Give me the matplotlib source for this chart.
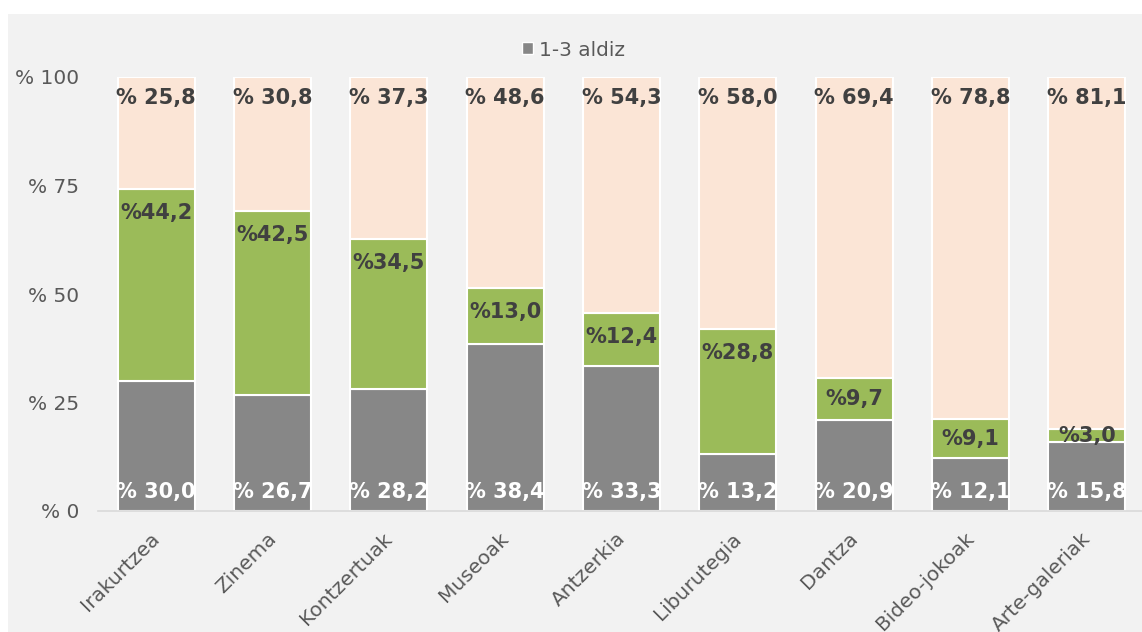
import numpy as np
import matplotlib.pyplot as plt
import matplotlib.transforms as mtransforms
from matplotlib.patches import Patch, Rectangle

categories = ['Irakurtzea', 'Zinema', 'Kontzertuak', 'Museoak', 'Antzerkia',
              'Liburutegia', 'Dantza', 'Bideo-jokoak', 'Arte-galeriak']
aldiz_1_3 = [30.0, 26.7, 28.2, 38.4, 33.3, 13.2, 20.9, 12.1, 15.8]
aldiz_4_gehiago = [44.2, 42.5, 34.5, 13.0, 12.4, 28.8, 9.7, 9.1, 3.0]
inoiz_ez = [25.8, 30.8, 37.3, 48.6, 54.3, 58.0, 69.4, 78.8, 81.1]
legend_label = '1-3 aldiz'

c_gray = '#878787'
c_green = '#9bbb59'
c_peach = '#fbe5d6'
c_text = '#404040'
c_tick = '#595959'

plt.rcParams['font.family'] = ['DejaVu Sans']

fig = plt.figure(figsize=(11.42, 6.32), dpi=100, facecolor='white')
# gray chart area
fig.patches.append(Rectangle((8 / 1142, 0), 1, 1 - 14 / 632, transform=fig.transFigure,
                             facecolor='#f2f2f2', edgecolor='none', zorder=-10))
ax = fig.add_axes([98 / 1142, 1 - 511 / 632, 1047 / 1142, (511 - 77) / 632])
ax.set_facecolor('none')

x = np.arange(len(categories))
w = 0.66
g1 = np.array(aldiz_1_3)
g2 = np.array(aldiz_4_gehiago)
g3 = np.array(inoiz_ez)

b1 = ax.bar(x, g1, w, color=c_gray, edgecolor='white', linewidth=1.5)
b2 = ax.bar(x, g2, w, bottom=g1, color=c_green, edgecolor='white', linewidth=1.5)
b3 = ax.bar(x, g3, w, bottom=g1 + g2, color=c_peach, edgecolor='white', linewidth=1.5)

def fmt(v):
    return ('%.1f' % v).replace('.', ',')

for i in range(len(categories)):
    t = ax.text(x[i], 4.4, '% ' + fmt(g1[i]), ha='center', va='center',
                color='white', fontsize=15, fontweight='bold')
    t.set_clip_path(b1[i])
    top = g1[i] + g2[i]
    if g2[i] > 11:
        yy = top - 5.5
    else:
        yy = g1[i] + g2[i] / 2
    ax.text(x[i], yy, '%' + fmt(g2[i]), ha='center', va='center',
            color=c_text, fontsize=15, fontweight='bold')
    ax.text(x[i], 100 - 4.8, '% ' + fmt(g3[i]), ha='center', va='center',
            color=c_text, fontsize=15, fontweight='bold')

ax.set_xlim(-0.5, len(categories) - 0.5)
ax.set_ylim(0, 100)
ax.set_yticks([0, 25, 50, 75, 100])
ax.set_yticklabels(['% ' + str(v) for v in [0, 25, 50, 75, 100]])
ax.set_xticks(x)
ax.set_xticklabels(categories, rotation=45, ha='right', rotation_mode='anchor')
ax.tick_params(axis='y', length=0, pad=13.5, labelsize=14.5, labelcolor=c_tick)
ax.tick_params(axis='x', length=0, pad=13, labelsize=14.5, labelcolor=c_tick)
shift = mtransforms.ScaledTranslation(-6 / 100, 0, fig.dpi_scale_trans)
for lab in ax.get_xticklabels():
    lab.set_transform(lab.get_transform() + shift)
for s in ['top', 'right', 'left']:
    ax.spines[s].set_visible(False)
ax.spines['bottom'].set_color('#d9d9d9')
ax.spines['bottom'].set_linewidth(1.2)

fig.legend(handles=[Patch(facecolor=c_gray, edgecolor='white', label=legend_label)],
           loc='center', bbox_to_anchor=(0.502, 1 - 50 / 632), frameon=False,
           fontsize=14.5, handlelength=0.55, handleheight=0.55, handletextpad=0.3,
           labelcolor=c_tick)

plt.savefig('out.png', dpi=100, facecolor=fig.get_facecolor())
